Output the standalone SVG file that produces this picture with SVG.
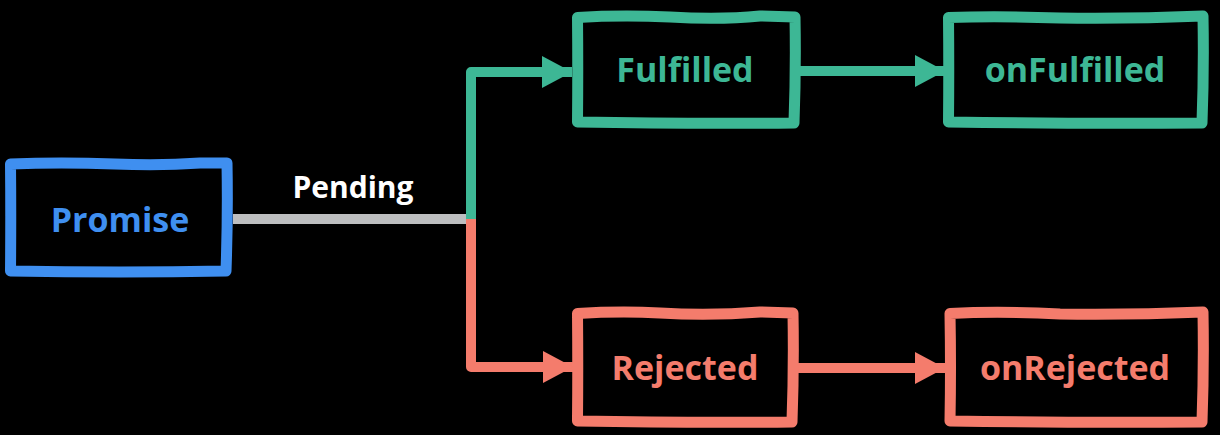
<svg xmlns="http://www.w3.org/2000/svg" width="1220" height="435" viewBox="0 0 1220 435">
<defs>
<style>
.box{fill:none;stroke-width:11;stroke-linejoin:round;stroke-linecap:round}
.blue{stroke:#3f8ff0}
.green{stroke:#3db795}
.red{stroke:#f47c6c}
.lbl{font-family:"Open Sans","Noto Sans",sans-serif;font-weight:700;font-size:34px;text-anchor:middle}
.conn{fill:none;stroke-width:10;stroke-linejoin:round}
</style>
<marker id="ag" markerUnits="userSpaceOnUse" viewBox="0 0 30 32" markerWidth="30" markerHeight="32" refX="30" refY="16" orient="auto"><path d="M0,0 L30,16 L0,32 Z" fill="#3db795"/></marker>
<marker id="ar" markerUnits="userSpaceOnUse" viewBox="0 0 30 32" markerWidth="30" markerHeight="32" refX="30" refY="16" orient="auto"><path d="M0,0 L30,16 L0,32 Z" fill="#f47c6c"/></marker>
</defs>
<rect width="1220" height="435" fill="#000"/>
<g id="connectors">
<path class="conn" d="M233,219 H467" stroke="#bdbec0" stroke-width="9"/>
<path class="conn green" d="M471,219 V72 H572" marker-end="url(#ag)"/>
<path class="conn red" d="M471,219 V367 H573" marker-end="url(#ar)"/>
<path class="conn green" d="M800,71 H945" marker-end="url(#ag)"/>
<path class="conn red" d="M798,368 H945" marker-end="url(#ar)"/>
</g>
<g id="promise">
<path class="box blue" d="M10.5,164 Q60,162 115,164 Q160,166 200,163 L227,163 Q228,215 226,271 Q120,273 10.5,271 Q11,215 10.5,164 Z"/>
<text class="lbl" x="120" y="232" fill="#3f8ff0">Promise</text>
</g>
<g id="pending-label">
<text class="lbl" x="353" y="198" fill="#ffffff" style="font-size:30px">Pending</text>
</g>
<g id="fulfilled">
<path class="box green" d="M577.5,17.5 Q620,15 670,17 Q720,20 760,16 L795,17 Q796,70 794,123 Q690,124 577.5,122 Q578,70 577.5,17.5 Z"/>
<text class="lbl" x="685" y="82" fill="#3db795">Fulfilled</text>
</g>
<g id="onfulfilled">
<path class="box green" d="M948.5,17.5 Q1000,16 1060,18 Q1130,19 1203,16 Q1204,70 1202,123 Q1080,124 948.5,122 Q949,70 948.5,17.5 Z"/>
<text class="lbl" x="1075" y="82" fill="#3db795">onFulfilled</text>
</g>
<g id="rejected">
<path class="box red" d="M577.5,313.5 Q620,311 660,313 Q710,316 760,312 L793,313 Q794,368 792,422 Q690,423 577.5,421 Q578,368 577.5,313.5 Z"/>
<text class="lbl" x="685" y="380" fill="#f47c6c">Rejected</text>
</g>
<g id="onrejected">
<path class="box red" d="M950,313.5 Q1000,311 1060,314 Q1130,315 1203,312 Q1204,368 1202,422 Q1080,423 950,421 Q951,368 950,313.5 Z"/>
<text class="lbl" x="1075" y="380" fill="#f47c6c">onRejected</text>
</g>
</svg>
